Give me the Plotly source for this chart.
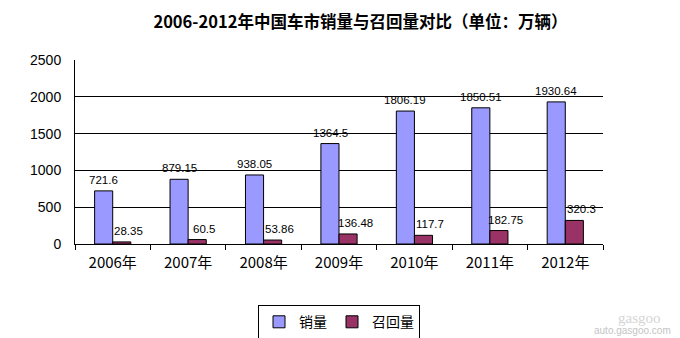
import plotly.graph_objects as go

years = ["2006年", "2007年", "2008年", "2009年", "2010年", "2011年", "2012年"]
sales = [721.6, 879.15, 938.05, 1364.5, 1806.19, 1850.51, 1930.64]
recalls = [28.35, 60.5, 53.86, 136.48, 117.7, 182.75, 320.3]
sales_labels = ["721.6", "879.15", "938.05", "1364.5", "1806.19", "1850.51", "1930.64"]
recall_labels = ["28.35", "60.5", "53.86", "136.48", "117.7", "182.75", "320.3"]

cjk = "Noto Sans CJK SC"

fig = go.Figure()
fig.add_trace(go.Bar(
    name="销量", x=years, y=sales,
    marker=dict(color="#9999FF", line=dict(color="#000000", width=1)),
))
fig.add_trace(go.Bar(
    name="召回量", x=years, y=recalls,
    marker=dict(color="#993366", line=dict(color="#000000", width=1)),
))

label_font = dict(family="Liberation Sans", size=11.5, color="#000")
annotations = []
for yr, v, t in zip(years, sales, sales_labels):
    annotations.append(dict(x=yr, y=v, text=t, xref="x", yref="y", showarrow=False,
                            xshift=-9, yshift=11, yanchor="middle", font=label_font))
for yr, v, t in zip(years, recalls, recall_labels):
    annotations.append(dict(x=yr, y=v, text=t, xref="x", yref="y", showarrow=False,
                            xshift=16, yshift=11, yanchor="middle", font=label_font))

# faint site mark in the lower right corner
annotations.append(dict(x=1.055, y=-0.47, xref="paper", yref="paper",
                        xanchor="center", yanchor="middle", showarrow=False,
                        text="auto.gasgoo.com",
                        font=dict(family="Liberation Sans", size=10, color="#c4c4c4")))
annotations.append(dict(x=1.07, y=-0.40, xref="paper", yref="paper",
                        xanchor="center", yanchor="middle", showarrow=False,
                        text="gasgoo",
                        font=dict(family="Liberation Serif", size=15, color="#d4d4d4")))

fig.update_layout(
    width=680, height=338,
    margin=dict(l=75, r=77, t=60, b=94, autoexpand=False),
    paper_bgcolor="white", plot_bgcolor="white",
    barmode="group", bargap=0.52, bargroupgap=0,
    title=dict(text="<b>2006-2012年中国车市销量与召回量对比（单位：万辆）</b>",
               x=0.53, xanchor="center", y=0.935, yanchor="middle",
               font=dict(family=cjk, size=16.5, color="#000")),
    font=dict(family=cjk, color="#000"),
    xaxis=dict(showline=True, linecolor="#000", linewidth=1,
               ticks="outside", tickson="boundaries", ticklen=5, tickcolor="#000",
               ticklabelstandoff=5,
               tickfont=dict(family=cjk, size=15, color="#000"), showgrid=False),
    yaxis=dict(range=[0, 2500], dtick=500, showline=True, linecolor="#000", linewidth=1,
               showgrid=True, gridcolor="#000", gridwidth=1, zeroline=False,
               ticks="", ticklabelstandoff=10,
               tickfont=dict(family="Liberation Sans", size=14, color="#000")),
    legend=dict(orientation="h", x=0.5, xanchor="center", y=-0.425, yanchor="middle",
                bordercolor="#000", borderwidth=1,
                font=dict(family=cjk, size=14, color="#000"),
                itemwidth=30),
    annotations=annotations,
    showlegend=True,
)

fig.write_html("out.html")
